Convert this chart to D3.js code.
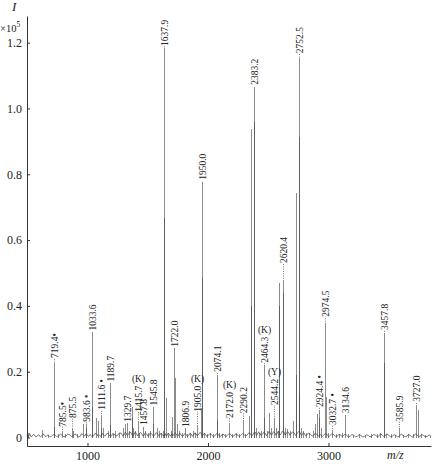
<!DOCTYPE html>
<html>
<head>
<meta charset="utf-8">
<script src="https://cdn.jsdelivr.net/npm/d3@7"></script>
<style>
  body { margin: 0; background: #fff; }
  text { font-family: "Liberation Serif", "Times New Roman", serif; }
</style>
</head>
<body>
<div id="chart"></div>
<script>
// axis ticks
const xTicks = [1000, 2000, 3000];
const yTicks = [0, 0.2, 0.4, 0.6, 0.8, 1.0, 1.2];

// peaks: [m/z, intensity x10^5]
const peaks = [
  [505, 0.015], [625, 0.023], [672, 0.008], [719.4, 0.225], [720.4, 0.033], [755, 0.01],
  [785.5, 0.02], [813, 0.012], [875.5, 0.03], [876.5, 0.02], [913, 0.01], [965, 0.04],
  [983.6, 0.04], [984.6, 0.03],
  [1033.6, 0.32], [1034.6, 0.094], [1068, 0.058], [1085, 0.05], [1111.6, 0.068], [1112.6, 0.03],
  [1131, 0.03], [1170, 0.02], [1189.7, 0.165], [1190.7, 0.038], [1210, 0.01], [1228, 0.02],
  [1265, 0.015], [1295, 0.03], [1310, 0.04], [1329.7, 0.045], [1345, 0.02], [1367.5, 0.094],
  [1368.5, 0.06], [1380, 0.03], [1395, 0.02], [1415.7, 0.05], [1430, 0.015], [1457.8, 0.033],
  [1475, 0.02], [1500, 0.015], [1520, 0.02], [1545.8, 0.094], [1546.8, 0.04], [1574, 0.03],
  [1590, 0.02], [1610, 0.015], [1630, 0.02], [1637.9, 1.183], [1638.9, 0.667], [1649, 0.12],
  [1665, 0.015], [1690, 0.02], [1704, 0.063], [1722.0, 0.271], [1723.0, 0.18], [1740, 0.04],
  [1760, 0.02], [1785, 0.015], [1806.9, 0.028], [1830, 0.01], [1850, 0.015], [1873, 0.02],
  [1890, 0.015], [1905.0, 0.038], [1939, 0.089], [1950.0, 0.778], [1951.0, 0.486], [1970, 0.015],
  [1995, 0.01], [2020, 0.015], [2045, 0.012], [2074.1, 0.19], [2075.1, 0.053], [2095, 0.015],
  [2120, 0.01], [2145, 0.012], [2172.0, 0.045], [2200, 0.012], [2230, 0.015], [2260, 0.01],
  [2290.2, 0.053], [2310, 0.01], [2343, 0.065], [2360, 0.937], [2361, 0.40], [2383.2, 1.066],
  [2384.2, 0.96],
  [2400, 0.03], [2420, 0.015], [2440, 0.02], [2464.3, 0.22], [2465.3, 0.06], [2490, 0.02],
  [2509, 0.074], [2525, 0.03], [2544.2, 0.06], [2565, 0.03], [2580, 0.02], [2592, 0.469],
  [2593, 0.40], [2620.4, 0.479], [2621.4, 0.44], [2640, 0.03], [2660, 0.025], [2680, 0.02],
  [2708, 0.05], [2728, 0.744], [2729, 0.19], [2752.5, 1.152], [2753.5, 0.914], [2754.5, 0.135],
  [2775, 0.03], [2790, 0.02], [2810, 0.015],
  [2840, 0.015], [2870, 0.02], [2888, 0.04], [2905, 0.07], [2924.4, 0.084], [2925.4, 0.06],
  [2940, 0.03], [2974.5, 0.349], [2975.5, 0.124], [3000, 0.015], [3032.7, 0.023], [3060, 0.01],
  [3090, 0.012], [3110, 0.015], [3134.6, 0.068], [3160, 0.01], [3200, 0.008], [3250, 0.01],
  [3300, 0.008], [3350, 0.012], [3400, 0.01], [3430, 0.015], [3457.8, 0.318], [3458.8, 0.225],
  [3480, 0.012], [3520, 0.01], [3550, 0.008], [3585.9, 0.028], [3620, 0.008], [3660, 0.01],
  [3700, 0.012], [3727.0, 0.099], [3745, 0.084], [3770, 0.01], [3800, 0.008], [3840, 0.006]
];

// baseline noise: [m/z, intensity]
const noise = [
  [500, 0.006], [510, 0.002], [520, 0.012], [530, 0.003], [540, 0.004], [550, 0.009], [560, 0.008],
  [570, 0.002], [580, 0.003], [590, 0.008], [600, 0.007], [610, 0.002], [620, 0.005], [630, 0.01],
  [640, 0.009], [650, 0.003], [660, 0.004], [670, 0.008], [680, 0.006], [690, 0.002], [700, 0.003],
  [715, 0.009], [730, 0.008], [745, 0.003], [760, 0.005], [775, 0.01], [790, 0.007], [805, 0.002],
  [820, 0.004], [835, 0.01], [850, 0.009], [865, 0.003], [880, 0.005], [895, 0.011], [910, 0.007],
  [925, 0.002], [940, 0.004], [950, 0.011], [960, 0.01], [975, 0.004], [990, 0.012], [1000, 0.006],
  [1010, 0.003], [1020, 0.009], [1035, 0.004], [1050, 0.005], [1062, 0.012], [1075, 0.011],
  [1088, 0.004], [1100, 0.007], [1112, 0.003], [1125, 0.012], [1138, 0.005], [1150, 0.006],
  [1162, 0.013], [1175, 0.01], [1188, 0.004], [1200, 0.005], [1210, 0.012], [1220, 0.011],
  [1235, 0.004], [1250, 0.007], [1265, 0.014], [1280, 0.013], [1292, 0.005], [1305, 0.008],
  [1313, 0.016], [1320, 0.014], [1330, 0.006], [1340, 0.009], [1350, 0.017], [1360, 0.015],
  [1372, 0.006], [1385, 0.008], [1395, 0.016], [1405, 0.013], [1415, 0.005], [1425, 0.009],
  [1438, 0.015], [1450, 0.012], [1460, 0.005], [1470, 0.007], [1480, 0.014], [1490, 0.011],
  [1500, 0.004], [1510, 0.006], [1520, 0.013], [1530, 0.012], [1545, 0.005], [1560, 0.008],
  [1570, 0.015], [1580, 0.013], [1590, 0.005], [1600, 0.007], [1610, 0.013], [1620, 0.01],
  [1632, 0.004], [1645, 0.012], [1652, 0.005], [1660, 0.006], [1670, 0.013], [1680, 0.009],
  [1690, 0.004], [1700, 0.011], [1708, 0.005], [1715, 0.008], [1728, 0.014], [1735, 0.012],
  [1745, 0.005], [1755, 0.006], [1765, 0.013], [1775, 0.01], [1785, 0.004], [1795, 0.005],
  [1808, 0.012], [1820, 0.009], [1830, 0.003], [1840, 0.006], [1850, 0.013], [1860, 0.011],
  [1870, 0.004], [1880, 0.007], [1890, 0.014], [1900, 0.012], [1910, 0.005], [1920, 0.008],
  [1932, 0.015], [1945, 0.013], [1952, 0.006], [1960, 0.007], [1970, 0.013], [1980, 0.01],
  [1990, 0.003], [2000, 0.005], [2015, 0.011], [2030, 0.008], [2045, 0.003], [2060, 0.006],
  [2072, 0.012], [2085, 0.01], [2098, 0.003], [2110, 0.005], [2122, 0.011], [2135, 0.008],
  [2148, 0.003], [2160, 0.006], [2175, 0.012], [2190, 0.009], [2202, 0.003], [2215, 0.005],
  [2230, 0.011], [2245, 0.008], [2258, 0.003], [2270, 0.006], [2285, 0.012], [2300, 0.009],
  [2312, 0.004], [2325, 0.007], [2338, 0.014], [2350, 0.012], [2362, 0.005], [2375, 0.009],
  [2385, 0.017], [2395, 0.015], [2402, 0.006], [2410, 0.01], [2420, 0.017], [2430, 0.014],
  [2440, 0.006], [2450, 0.009], [2462, 0.016], [2475, 0.013], [2485, 0.005], [2495, 0.01],
  [2505, 0.018], [2515, 0.016], [2525, 0.007], [2535, 0.011], [2545, 0.018], [2555, 0.015],
  [2565, 0.007], [2575, 0.012], [2582, 0.019], [2590, 0.016], [2600, 0.008], [2610, 0.013],
  [2620, 0.02], [2630, 0.017], [2640, 0.008], [2650, 0.012], [2660, 0.018], [2670, 0.015],
  [2680, 0.007], [2690, 0.011], [2702, 0.017], [2715, 0.014], [2728, 0.006], [2740, 0.012],
  [2752, 0.018], [2765, 0.015], [2775, 0.006], [2785, 0.01], [2792, 0.015], [2800, 0.012],
  [2810, 0.005], [2820, 0.008], [2835, 0.013], [2850, 0.01], [2865, 0.004], [2880, 0.007],
  [2890, 0.013], [2900, 0.011], [2918, 0.004], [2935, 0.009], [2948, 0.003], [2960, 0.007],
  [2975, 0.012], [2990, 0.009], [3000, 0.003], [3010, 0.005], [3028, 0.011], [3045, 0.008],
  [3060, 0.003], [3075, 0.005], [3088, 0.01], [3100, 0.008], [3112, 0.003], [3125, 0.006],
  [3138, 0.01], [3150, 0.007], [3165, 0.002], [3180, 0.004], [3195, 0.009], [3210, 0.007],
  [3225, 0.002], [3240, 0.004], [3255, 0.009], [3270, 0.006], [3285, 0.002], [3300, 0.003],
  [3315, 0.008], [3330, 0.006], [3345, 0.002], [3360, 0.004], [3375, 0.009], [3390, 0.007],
  [3405, 0.002], [3420, 0.005], [3432, 0.011], [3445, 0.008], [3458, 0.003], [3470, 0.006],
  [3485, 0.011], [3500, 0.007], [3515, 0.002], [3530, 0.004], [3545, 0.009], [3560, 0.006],
  [3575, 0.002], [3590, 0.005], [3605, 0.01], [3620, 0.007], [3635, 0.002], [3650, 0.004],
  [3665, 0.009], [3680, 0.006], [3695, 0.002], [3710, 0.005], [3722, 0.011], [3735, 0.008],
  [3748, 0.003], [3760, 0.004], [3775, 0.009], [3790, 0.006], [3805, 0.002], [3820, 0.003],
  [3835, 0.008], [3850, 0.005]
];

// peak annotations; level = intensity where the label text starts
const labels = [
  { mz: 719.4, text: "719.4•", level: 0.242 },
  { mz: 785.5, text: "785.5•", level: 0.033 },
  { mz: 875.5, text: "875.5", level: 0.059 },
  { mz: 983.6, text: "983.6 •", level: 0.048 },
  { mz: 1033.6, text: "1033.6", level: 0.325 },
  { mz: 1111.6, text: "1111.6 •", level: 0.084 },
  { mz: 1189.7, text: "1189.7", level: 0.17 },
  { mz: 1329.7, text: "1329.7", level: 0.048 },
  { mz: 1415.7, text: "1415.7", level: 0.078, tag: "(K)" },
  { mz: 1457.8, text: "1457.8", level: 0.038 },
  { mz: 1545.8, text: "1545.8", level: 0.097 },
  { mz: 1637.9, text: "1637.9", level: 1.19 },
  { mz: 1722.0, text: "1722.0", level: 0.276 },
  { mz: 1806.9, text: "1806.9", level: 0.032 },
  { mz: 1905.0, text: "1905.0", level: 0.078, tag: "(K)" },
  { mz: 1950.0, text: "1950.0", level: 0.783 },
  { mz: 2074.1, text: "2074.1", level: 0.2 },
  { mz: 2172.0, text: "2172.0", level: 0.059, tag: "(K)" },
  { mz: 2290.2, text: "2290.2", level: 0.074 },
  { mz: 2383.2, text: "2383.2", level: 1.072 },
  { mz: 2464.3, text: "2464.3", level: 0.227, tag: "(K)" },
  { mz: 2544.2, text: "2544.2", level: 0.099, tag: "(Y)" },
  { mz: 2620.4, text: "2620.4", level: 0.53 },
  { mz: 2752.5, text: "2752.5", level: 1.168 },
  { mz: 2924.4, text: "2924.4 •", level: 0.093 },
  { mz: 2974.5, text: "2974.5", level: 0.367 },
  { mz: 3032.7, text: "3032.7 •", level: 0.038 },
  { mz: 3134.6, text: "3134.6", level: 0.074 },
  { mz: 3457.8, text: "3457.8", level: 0.327 },
  { mz: 3585.9, text: "3585.9", level: 0.048 },
  { mz: 3727.0, text: "3727.0", level: 0.109 }
];

const width = 433;
const height = 464;

const svg = d3.select("#chart")
  .append("svg")
  .attr("width", width)
  .attr("height", height);

const x = d3.scaleLinear()
  .domain([498, 3851])
  .range([27, 431]);

const y = d3.scaleLinear()
  .domain([-0.0258, 1.281])
  .range([446, 16]);

// baseline noise
const line = d3.line()
  .x(d => x(d[0]))
  .y(d => y(d[1]));

svg.append("path")
  .datum(noise)
  .attr("fill", "none")
  .attr("stroke", "#555")
  .attr("stroke-width", 0.8)
  .attr("d", line);

// peaks as sticks, overlapping ones come out darker
svg.append("g")
  .selectAll("line")
  .data(peaks)
  .join("line")
  .attr("x1", d => Math.round(x(d[0])) + 0.5)
  .attr("x2", d => Math.round(x(d[0])) + 0.5)
  .attr("y1", y(0))
  .attr("y2", d => y(d[1]))
  .attr("stroke", "#444")
  .attr("stroke-opacity", 0.62)
  .attr("stroke-width", 1)
  .attr("shape-rendering", "crispEdges");

// axes
const yAxis = svg.append("g")
  .attr("transform", "translate(27,0)")
  .call(d3.axisLeft(y)
    .tickValues(yTicks)
    .tickSizeInner(-3)
    .tickSizeOuter(0)
    .tickPadding(5)
    .tickFormat(d => d === 0 ? "0" : d3.format(".1f")(d)));

const xAxis = svg.append("g")
  .attr("transform", "translate(0,446)")
  .call(d3.axisBottom(x)
    .tickValues(xTicks)
    .tickSizeInner(-3)
    .tickSizeOuter(0)
    .tickPadding(5)
    .tickFormat(d3.format("d")));

[yAxis, xAxis].forEach(g => {
  g.select(".domain").attr("stroke", "#333");
  g.selectAll(".tick line").attr("stroke", "#333");
  g.selectAll(".tick text")
    .attr("fill", "#222")
    .style("font-family", "'Liberation Serif', serif")
    .style("font-size", "12px");
});

// axis titles
svg.append("text")
  .attr("x", 12)
  .attr("y", 11)
  .attr("font-style", "italic")
  .attr("font-size", 13)
  .attr("fill", "#222")
  .text("I");

const exp = svg.append("text")
  .attr("x", 0)
  .attr("y", 32)
  .attr("font-size", 10.5)
  .attr("fill", "#222");
exp.append("tspan").text("×10");
exp.append("tspan").attr("dy", -5).attr("font-size", 7.5).text("5");

svg.append("text")
  .attr("x", 387)
  .attr("y", 459)
  .attr("font-style", "italic")
  .attr("font-size", 12)
  .attr("fill", "#222")
  .text("m/z");

// peak labels
const peakTop = mz => d3.max(peaks.filter(p => Math.abs(p[0] - mz) < 0.5), p => p[1]);

const lab = svg.append("g");
labels.forEach(d => {
  const px = Math.round(x(d.mz)) + 0.5;
  const top = y(peakTop(d.mz));
  const ly = y(d.level);
  if (top - ly > 2) {
    lab.append("line")
      .attr("x1", px).attr("x2", px)
      .attr("y1", top - 1).attr("y2", ly)
      .attr("stroke", "#555")
      .attr("stroke-width", 0.8)
      .attr("stroke-dasharray", "1,1.3");
  }
  const t = lab.append("text")
    .attr("transform", `translate(${px},${ly}) rotate(-90)`)
    .attr("dy", "0.35em")
    .attr("font-size", 9.5)
    .attr("fill", "#222")
    .text(d.text);
  if (d.tag) {
    const len = t.node().getComputedTextLength();
    lab.append("text")
      .attr("x", px)
      .attr("y", ly - len - 4)
      .attr("text-anchor", "middle")
      .attr("font-size", 9.5)
      .attr("fill", "#222")
      .text(d.tag);
  }
});
</script>
</body>
</html>
